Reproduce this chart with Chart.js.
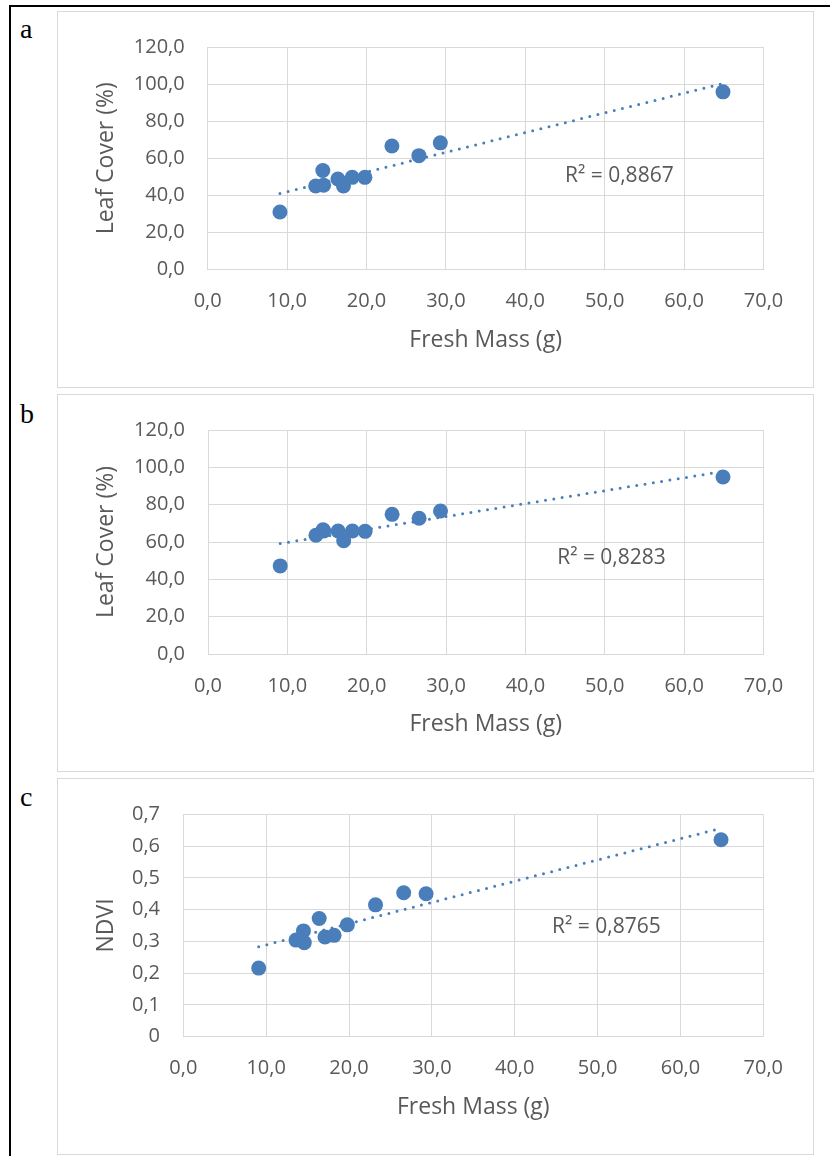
<!DOCTYPE html>
<html>
<head>
<meta charset="utf-8">
<script src="https://cdn.jsdelivr.net/npm/chart.js@4.4.1/dist/chart.umd.min.js"></script>
<style>
  html, body { margin: 0; padding: 0; background: #fff; overflow: hidden; }
  body { position: relative; width: 830px; height: 1156px; }
  .frame { position: absolute; left: 9px; top: 5px; width: 900px; height: 1300px; border: 2px solid #000; box-sizing: border-box; }
  .box { position: absolute; left: 57px; width: 757px; border: 1px solid #d9d9d9; box-sizing: border-box; background: #fff; }
  .letter { position: absolute; left: 20px; font: 28px "Liberation Serif", "DejaVu Serif", serif; line-height: 1; color: #000; }
  canvas { position: absolute; left: 58px; }
</style>
</head>
<body>
<div class="frame"></div>

<div class="box" style="top:11px;height:377px"></div>
<div class="box" style="top:394px;height:378px"></div>
<div class="box" style="top:778px;height:377px"></div>

<div class="letter" style="top:15px">a</div>
<div class="letter" style="top:400px">b</div>
<div class="letter" style="top:783px">c</div>

<canvas id="chartA" width="755" height="375" style="top:12px"></canvas>
<canvas id="chartB" width="755" height="376" style="top:395px"></canvas>
<canvas id="chartC" width="755" height="375" style="top:779px"></canvas>

<script>
// fresh mass (g), shared by all three panels
const freshMass = [9.1, 13.6, 14.5, 14.6, 16.4, 17.1, 18.2, 19.8, 23.2, 26.6, 29.3, 64.9];

const leafCoverA = [31.0, 45.0, 53.4, 45.5, 48.8, 45.0, 49.7, 49.7, 66.6, 61.4, 68.3, 95.8];
const leafCoverB = [47.2, 63.6, 66.6, 65.9, 65.9, 60.7, 65.9, 65.7, 74.8, 72.7, 76.6, 94.8];
const ndvi = [0.216, 0.304, 0.333, 0.296, 0.372, 0.314, 0.319, 0.352, 0.415, 0.453, 0.450, 0.620];

// linear trendline ends
const trendX = [9.1, 64.9];
const trendA = [41.0, 100.3];
const trendB = [59.2, 97.8];
const trendC = [0.283, 0.656];

const r2Labels = ["R² = 0,8867", "R² = 0,8283", "R² = 0,8765"];

const BLUE = "#4a7ebb";
const TEXT = "#595959";
const GRID = "#d9d9d9";

Chart.defaults.font.family = "'Open Sans', 'Noto Sans', sans-serif";
Chart.defaults.color = TEXT;

function pairs(xs, ys) {
  return xs.map((x, i) => ({ x: x, y: ys[i] }));
}

function comma(v, digits) {
  return Number(v).toFixed(digits).replace(".", ",");
}

// writes the R² text at a spot given in data units
const r2Plugin = {
  id: "r2",
  afterDatasetsDraw(chart, args, opts) {
    const { ctx, scales } = chart;
    ctx.save();
    ctx.font = "21px 'Open Sans', sans-serif";
    ctx.fillStyle = TEXT;
    ctx.textAlign = "left";
    ctx.textBaseline = "middle";
    ctx.fillText(opts.text, scales.x.getPixelForValue(opts.at[0]), scales.y.getPixelForValue(opts.at[1]));
    ctx.restore();
  },
};

function makePanel(id, p) {
  const canvas = document.getElementById(id);
  const W = canvas.width;
  const H = canvas.height;
  return new Chart(canvas, {
    type: "scatter",
    data: {
      datasets: [
        {
          data: pairs(freshMass, p.values),
          backgroundColor: BLUE,
          borderWidth: 0,
          pointRadius: 7.5,
          pointHoverRadius: 7.5,
        },
        {
          data: pairs(trendX, p.trend),
          showLine: true,
          pointRadius: 0,
          borderColor: BLUE,
          borderWidth: 3,
          borderDash: [0, 8.4],
          borderCapStyle: "round",
          fill: false,
        },
      ],
    },
    options: {
      responsive: false,
      animation: false,
      layout: { padding: { top: p.top, right: W - p.right, left: 0, bottom: 0 } },
      plugins: {
        legend: { display: false },
        tooltip: { enabled: false },
        r2: { text: p.label, at: p.labelAt },
      },
      scales: {
        x: {
          type: "linear",
          min: 0,
          max: 70,
          afterFit: (s) => { s.height = H - p.bottom; },
          ticks: { stepSize: 10, padding: 20, font: { size: 20 }, color: TEXT, callback: (v) => comma(v, 1) },
          grid: { color: GRID, lineWidth: 1, drawTicks: false },
          border: { color: GRID, width: 1 },
          title: { display: true, text: "Fresh Mass (g)", color: TEXT, font: { size: 23 }, padding: { top: 0, bottom: 33 } },
        },
        y: {
          min: 0,
          max: p.yMax,
          afterFit: (s) => { s.width = p.left; },
          ticks: { stepSize: p.yStep, padding: p.tickPad, font: { size: 20 }, color: TEXT, callback: p.yFormat },
          grid: { color: GRID, lineWidth: 1, drawTicks: false },
          border: { color: GRID, width: 1 },
          title: { display: true, text: p.yTitle, color: TEXT, font: { size: 23 }, padding: { top: 35, bottom: 0 } },
        },
      },
    },
    plugins: [r2Plugin],
  });
}

makePanel("chartA", {
  values: leafCoverA, trend: trendA, label: r2Labels[0], labelAt: [45.0, 50.4],
  top: 27.7, bottom: 257.5, left: 149.7, right: 705.5, tickPad: 23,
  yMax: 120, yStep: 20, yTitle: "Leaf Cover (%)", yFormat: (v) => comma(v, 1),
});

makePanel("chartB", {
  values: leafCoverB, trend: trendB, label: r2Labels[1], labelAt: [44.0, 51.5],
  top: 28.3, bottom: 259, left: 150, right: 705.5, tickPad: 23,
  yMax: 120, yStep: 20, yTitle: "Leaf Cover (%)", yFormat: (v) => comma(v, 1),
});

makePanel("chartC", {
  values: ndvi, trend: trendC, label: r2Labels[2], labelAt: [44.5, 0.345],
  top: 28.7, bottom: 257.7, left: 125.3, right: 705.3, tickPad: 23.3,
  yMax: 0.7, yStep: 0.1, yTitle: "NDVI", yFormat: (v) => (Math.abs(v) < 1e-9 ? "0" : comma(v, 1)),
});
</script>
</body>
</html>
